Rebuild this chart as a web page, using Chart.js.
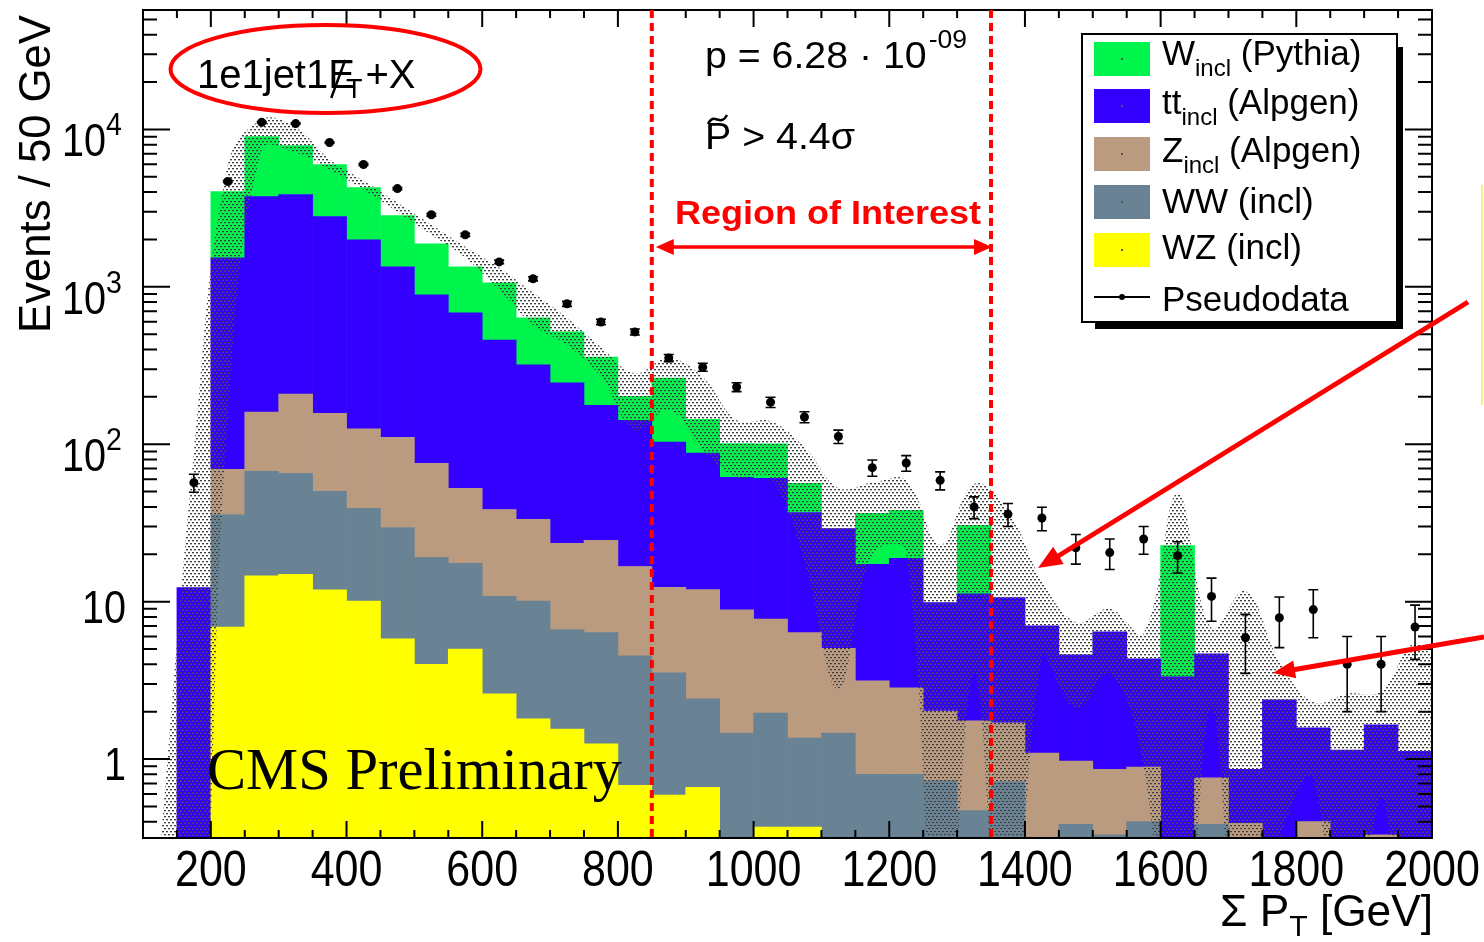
<!DOCTYPE html>
<html>
<head>
<meta charset="utf-8">
<title>Sum PT, 1e1jet1MET+X</title>
<script src="https://cdn.jsdelivr.net/npm/chart.js@4.4.1/dist/chart.umd.min.js"></script>
<style>
  html, body { margin: 0; padding: 0; background: #fff; }
  #wrap { position: relative; width: 1484px; height: 942px; }
</style>
</head>
<body>
<div id="wrap"><canvas id="c" width="1484" height="942"></canvas></div>
<script>
// 50 GeV bins, 150 .. 2000
const binCenters = [175, 225, 275, 325, 375, 425, 475, 525, 575, 625, 675, 725, 775, 825, 875, 925, 975,
  1025, 1075, 1125, 1175, 1225, 1275, 1325, 1375, 1425, 1475, 1525, 1575, 1625, 1675, 1725, 1775, 1825,
  1875, 1925, 1975];

// stacked MC, bottom to top
const wzIncl = [0, 6.9, 14.6, 14.9, 11.9, 10.1, 5.8, 4.0, 5.0, 2.6, 1.8, 1.55, 1.25, 0.68, 0.59, 0.66, 0,
  0.37, 0.37, 0, 0, 0, 0, 0, 0, 0, 0, 0, 0, 0, 0, 0, 0, 0, 0, 0, 0];
const wwIncl = [0, 28.9, 52.7, 50.4, 38.3, 29.0, 23.8, 15.1, 12.5, 8.2, 8.3, 5.1, 5.1, 3.85, 2.94, 1.75, 1.46,
  1.59, 0.99, 1.46, 0.8, 0.8, 0.73, 0.47, 0.72, 0, 0.385, 0.33, 0.4, 0, 0.385, 0, 0, 0, 0, 0, 0];
const zIncl = [0, 33.5, 92.7, 143, 107, 86, 81, 56.6, 35.0, 27.7, 23.2, 16.8, 18.2, 12.2, 8.8, 9.5, 7.4,
  5.8, 5.0, 3.6, 2.34, 2.03, 1.29, 1.28, 0.98, 1.09, 0.585, 0.53, 0.49, 0, 0.375, 0.39, 0, 0.4, 0, 0.33, 0];
const ttIncl = [12.3, 1462, 3583, 3646, 2635, 1866, 1229, 813, 631, 421, 286, 222, 152, 125, 91, 76, 52.7,
  52.9, 30.5, 24.1, 14.1, 16.0, 7.84, 9.45, 8.9, 5.94, 3.63, 5.58, 3.44, 3.33, 3.9, 0.47, 2.38, 1.18, 1.14,
  1.32, 1.12];
const wIncl = [0, 2496, 5273, 4053, 3192, 2282, 1493, 990, 657, 600, 316, 272, 181, 60, 160, 56, 39.5,
  40, 19.6, 0, 19.2, 19.2, 0, 19.3, 0, 0, 0, 0, 0, 19.4, 0, 0, 0, 0, 0, 0, 0];

// pseudodata with errors
const pseudoData = [57, 4670, 11100, 10900, 8260, 5990, 4210, 2870, 2140, 1440, 1125, 780, 598, 517, 353,
  309, 231, 185, 149, 112, 71, 76, 59, 40, 36, 34, 22, 20.5, 25, 19.6, 10.8, 5.9, 7.9, 8.9, 4, 4, 6.9];
const pseudoErr = [7.5, 68, 105, 104, 91, 77, 65, 54, 46, 38, 34, 28, 24, 23, 19, 18, 15, 14, 12, 11, 8.4,
  8.7, 7.7, 6.3, 6, 5.8, 4.7, 4.5, 5, 4.4, 3.3, 2.4, 2.8, 3, 2, 2, 2.6];

// smoothed MC uncertainty band
const bandX = [125].concat(binCenters, [2025]);
const bandUp = [0.25, 88, 5980, 11580, 10300, 6440, 4730, 3430, 2480, 1800, 1320, 916, 635, 415, 283, 353,
  267, 142, 140, 96, 53, 57, 59, 23, 56, 38, 13.6, 7.4, 9.0, 6.3, 48.7, 6.8, 11.7, 4.2, 2.3, 2.6, 2.7, 5.4, 3];
const bandLo = [0.01, 0.01, 150, 7460, 7140, 5560, 4150, 3000, 2140, 1530, 957, 573, 427, 267, 123, 165, 92,
  62, 61, 18, 2.8, 20, 21, 0.01, 3.5, 0.01, 4.4, 2.1, 3.5, 0.9, 0.01, 2.1, 0.01, 0.3, 0.75, 0.01, 0.56, 0.01,
  0.01];

const xTicks = [200, 400, 600, 800, 1000, 1200, 1400, 1600, 1800, 2000];
const yTicks = [1, 10, 100, 1000, 10000];
const roiBounds = [850, 1350];

const colW = '#00f54c', colTT = '#3300ff', colZ = '#bb9b80', colWW = '#698394', colWZ = '#ffff00';
const SANS = '"Liberation Sans", Arial, Helvetica, sans-serif';
const SERIF = '"Liberation Serif", "Times New Roman", serif';

const canvas = document.getElementById('c');
const ctx = canvas.getContext('2d');

// dotted fill for the band
const tile = document.createElement('canvas');
tile.width = 4; tile.height = 6;
const tc = tile.getContext('2d');
tc.fillStyle = 'rgba(60,60,60,1)';
tc.fillRect(0, 0, 2, 1);
tc.fillRect(2, 3, 2, 1);
tc.fillStyle = 'rgba(110,110,110,0.45)';
tc.fillRect(0, 1, 2, 1);
tc.fillRect(2, 4, 2, 1);
const hatch = ctx.createPattern(tile, 'repeat');

function pts(xs, ys) { return xs.map((x, i) => ({x: x, y: ys[i]})); }

function barSet(label, vals, color) {
  return {
    type: 'bar', label: label, data: pts(binCenters, vals), backgroundColor: color,
    borderWidth: 0, barPercentage: 1, categoryPercentage: 1, stack: 'mc', order: 2
  };
}

// text pieces laid out left to right, optionally squeezed to a width
function rich(c, pieces, x, y, opt) {
  opt = opt || {};
  const fam = opt.family || SANS;
  c.save();
  const fonts = pieces.map(p => (p.weight || opt.weight || '') + ' ' + p.size + 'px ' + fam);
  let total = 0;
  const ws = pieces.map((p, i) => {
    c.font = fonts[i];
    const w = c.measureText(p.t).width + (p.dx || 0);
    total += w;
    return w;
  });
  const sx = opt.width ? opt.width / total : (opt.sx || 1);
  let x0 = x;
  if (opt.align === 'right') x0 = x - total * sx;
  else if (opt.align === 'center') x0 = x - total * sx / 2;
  c.fillStyle = opt.color || '#000';
  c.textBaseline = 'alphabetic';
  c.textAlign = 'left';
  pieces.forEach((p, i) => {
    c.font = fonts[i];
    c.save();
    c.translate(x0 + (p.pre || 0) * sx, y + (p.dy || 0));
    c.scale(sx, 1);
    c.fillText(p.t, 0, 0);
    c.restore();
    x0 += ws[i] * sx;
  });
  c.restore();
}

function arrowHead(c, tx, ty, fx, fy, len, half) {
  const ang = Math.atan2(ty - fy, tx - fx);
  c.beginPath();
  c.moveTo(tx, ty);
  c.lineTo(tx - len * Math.cos(ang) + half * Math.sin(ang), ty - len * Math.sin(ang) - half * Math.cos(ang));
  c.lineTo(tx - len * Math.cos(ang) - half * Math.sin(ang), ty - len * Math.sin(ang) + half * Math.cos(ang));
  c.closePath();
  c.fill();
}

const errorBars = {
  id: 'errorBars',
  afterDatasetsDraw(chart) {
    const {ctx: c, chartArea: a, scales: {x, y}} = chart;
    c.save();
    c.beginPath(); c.rect(a.left, a.top, a.width, a.height); c.clip();
    c.strokeStyle = '#000'; c.lineWidth = 1.6;
    binCenters.forEach((b, i) => {
      const px = x.getPixelForValue(b);
      const yHi = y.getPixelForValue(pseudoData[i] + pseudoErr[i]);
      const yLo = y.getPixelForValue(Math.max(pseudoData[i] - pseudoErr[i], 1e-3));
      c.beginPath();
      c.moveTo(px, yHi); c.lineTo(px, yLo);
      c.moveTo(px - 5, yHi); c.lineTo(px + 5, yHi);
      c.moveTo(px - 5, yLo); c.lineTo(px + 5, yLo);
      c.stroke();
    });
    c.restore();
  }
};

const decor = {
  id: 'decor',
  afterDraw(chart) {
    const {ctx: c, chartArea: a, scales: {x, y}} = chart;
    c.save();

    // ticks on all four sides, pointing in
    c.strokeStyle = '#000'; c.lineWidth = 2;
    c.beginPath();
    for (let v = 150; v < 2000; v += 50) {
      const px = x.getPixelForValue(v);
      const len = v % 200 === 0 ? 17 : 8;
      c.moveTo(px, a.bottom); c.lineTo(px, a.bottom - len);
      c.moveTo(px, a.top); c.lineTo(px, a.top + len);
    }
    for (let e = -1; e <= 4; e++) {
      for (let m = 1; m <= 9; m++) {
        const v = m * Math.pow(10, e);
        if (v < y.min || v > y.max) continue;
        const py = y.getPixelForValue(v);
        const len = m === 1 ? 27 : 14;
        c.moveTo(a.left, py); c.lineTo(a.left + len, py);
        c.moveTo(a.right, py); c.lineTo(a.right - len, py);
      }
    }
    c.stroke();
    c.strokeRect(a.left, a.top, a.width, a.height);

    // tick labels
    xTicks.forEach(v => {
      rich(c, [{t: String(v), size: 50}], x.getPixelForValue(v), 886, {align: 'center', sx: 0.86});
    });
    yTicks.forEach(v => {
      const py = y.getPixelForValue(v);
      const e = Math.round(Math.log10(v));
      if (e < 2) {
        rich(c, [{t: String(v), size: 46}], 126, py + 21, {align: 'right', sx: 0.86});
      } else {
        rich(c, [{t: '10', size: 46}], 106, py + 27, {align: 'right', sx: 0.86});
        rich(c, [{t: String(e), size: 31}], 106, py + 6, {sx: 0.92});
      }
    });

    // axis titles
    rich(c, [{t: '\u03A3 P', size: 44}, {t: 'T', size: 30, dy: 10}, {t: ' [GeV]', size: 44}],
      1433, 926, {align: 'right', width: 213});
    c.save();
    c.translate(50, 333);
    c.rotate(-Math.PI / 2);
    rich(c, [{t: 'Events / 50 GeV', size: 44}], 0, 0, {width: 318});
    c.restore();

    // region of interest
    const xl = x.getPixelForValue(roiBounds[0]);
    const xr = x.getPixelForValue(roiBounds[1]);
    c.strokeStyle = '#ff0000'; c.fillStyle = '#ff0000';
    c.lineWidth = 4;
    c.setLineDash([8, 5]);
    c.beginPath();
    c.moveTo(xl, a.top); c.lineTo(xl, a.bottom);
    c.moveTo(xr, a.top); c.lineTo(xr, a.bottom);
    c.stroke();
    c.setLineDash([]);
    c.lineWidth = 3.5;
    c.beginPath(); c.moveTo(xl + 14, 247); c.lineTo(xr - 12, 247); c.stroke();
    arrowHead(c, xl + 4, 247, xr, 247, 18, 8);
    arrowHead(c, xr + 1, 247, xl, 247, 18, 8);
    rich(c, [{t: 'Region of Interest', size: 33, weight: 'bold'}], 675, 224, {width: 306, color: '#ff0000'});

    // significance
    rich(c, [{t: 'p = 6.28 \u00B7 10', size: 37}, {t: '-09', size: 25, dy: -20, pre: 2}], 705, 68, {width: 260});
    rich(c, [{t: 'P', size: 37}, {t: ' > 4.4\u03C3', size: 37}], 705, 149, {width: 150});
    c.strokeStyle = '#000'; c.lineWidth = 2.5;
    c.beginPath(); c.moveTo(708, 124); c.bezierCurveTo(714, 111, 720, 128, 727, 115); c.stroke();

    // channel label in the ellipse
    c.strokeStyle = '#ff0000'; c.lineWidth = 4;
    c.beginPath(); c.ellipse(325.5, 69, 155, 44, 0, 0, Math.PI * 2); c.stroke();
    c.font = '40px ' + SANS;
    const w1 = c.measureText('1e1jet1').width;
    const wE = c.measureText('E').width;
    rich(c, [{t: '1e1jet1E', size: 40}], 197, 88, {});
    rich(c, [{t: 'T', size: 27}], 197 + w1 + wE - 9, 98, {});
    c.font = '27px ' + SANS;
    const wT = c.measureText('T').width;
    rich(c, [{t: '+X', size: 40}], 197 + w1 + wE - 9 + wT + 3, 88, {});
    c.strokeStyle = '#000'; c.lineWidth = 2.5;
    c.beginPath(); c.moveTo(197 + w1 + 3, 98); c.lineTo(197 + w1 + 17, 60); c.stroke();

    rich(c, [{t: 'CMS Preliminary', size: 60}], 207, 789, {family: SERIF, width: 415});

    // legend
    c.fillStyle = '#000';
    c.fillRect(1095, 322, 308, 7);
    c.fillRect(1397, 47, 6, 282);
    c.fillStyle = '#fff';
    c.fillRect(1082, 34, 315, 288);
    c.strokeStyle = '#000'; c.lineWidth = 2;
    c.strokeRect(1082, 34, 315, 288);
    const rows = [
      {col: colW, top: 42, base: 65, main: 'W', sub: 'incl', rest: ' (Pythia)'},
      {col: colTT, top: 89, base: 114, main: 'tt', sub: 'incl', rest: ' (Alpgen)'},
      {col: colZ, top: 137, base: 162, main: 'Z', sub: 'incl', rest: ' (Alpgen)'},
      {col: colWW, top: 185, base: 213, main: 'WW (incl)'},
      {col: colWZ, top: 233, base: 259, main: 'WZ (incl)'}
    ];
    rows.forEach(r => {
      c.fillStyle = r.col;
      c.fillRect(1094, r.top, 56, 34);
      c.fillStyle = '#555';
      c.fillRect(1121, r.top + 16, 2, 2);
      const pieces = [{t: r.main, size: 35}];
      if (r.sub) pieces.push({t: r.sub, size: 24, dy: 11}, {t: r.rest, size: 35});
      rich(c, pieces, 1162, r.base, {});
    });
    c.strokeStyle = '#000'; c.lineWidth = 2;
    c.beginPath(); c.moveTo(1094, 297); c.lineTo(1150, 297); c.stroke();
    c.fillStyle = '#000';
    c.beginPath(); c.arc(1122, 297, 3, 0, Math.PI * 2); c.fill();
    rich(c, [{t: 'Pseudodata', size: 35}], 1162, 311, {});

    // call-out arrows to the right
    c.strokeStyle = '#ff0000'; c.fillStyle = '#ff0000'; c.lineWidth = 5;
    c.beginPath(); c.moveTo(1468, 302); c.lineTo(1055, 558); c.stroke();
    arrowHead(c, 1038, 568, 1468, 302, 24, 10);
    c.beginPath(); c.moveTo(1484, 637); c.lineTo(1292, 670); c.stroke();
    arrowHead(c, 1273, 673, 1484, 637, 22, 9);
    c.fillStyle = '#ffffc4';
    c.fillRect(1481, 185, 3, 220);
    c.fillStyle = '#f2f266';
    c.fillRect(1481, 185, 1.5, 220);

    c.restore();
  }
};

new Chart(canvas, {
  type: 'bar',
  data: {
    datasets: [
      barSet('WZ (incl)', wzIncl, colWZ),
      barSet('WW (incl)', wwIncl, colWW),
      barSet('Z incl (Alpgen)', zIncl, colZ),
      barSet('tt incl (Alpgen)', ttIncl, colTT),
      barSet('W incl (Pythia)', wIncl, colW),
      {
        type: 'line', label: 'band up', data: pts(bandX, bandUp), borderWidth: 0,
        borderColor: 'rgba(0,0,0,0)', backgroundColor: hatch, pointRadius: 0, tension: 0.4,
        fill: '+1', order: 1
      },
      {
        type: 'line', label: 'band low', data: pts(bandX, bandLo), borderWidth: 0,
        borderColor: 'rgba(0,0,0,0)', pointRadius: 0, tension: 0.4, fill: false, order: 1
      },
      {
        type: 'line', label: 'Pseudodata', data: pts(binCenters, pseudoData), showLine: false,
        pointRadius: 4.5, pointBorderWidth: 0, pointBackgroundColor: '#000', borderColor: '#000', order: 0
      }
    ]
  },
  options: {
    responsive: false,
    animation: false,
    devicePixelRatio: 1,
    layout: {padding: {left: 143, right: 52, top: 10, bottom: 104}},
    plugins: {legend: {display: false}, tooltip: {enabled: false}},
    scales: {
      x: {type: 'linear', min: 100, max: 2000, offset: false, bounds: 'data', display: false,
        ticks: {stepSize: 200}},
      y: {type: 'logarithmic', min: 0.315, max: 57400, bounds: 'data', display: false}
    }
  },
  plugins: [errorBars, decor]
});
</script>
</body>
</html>
